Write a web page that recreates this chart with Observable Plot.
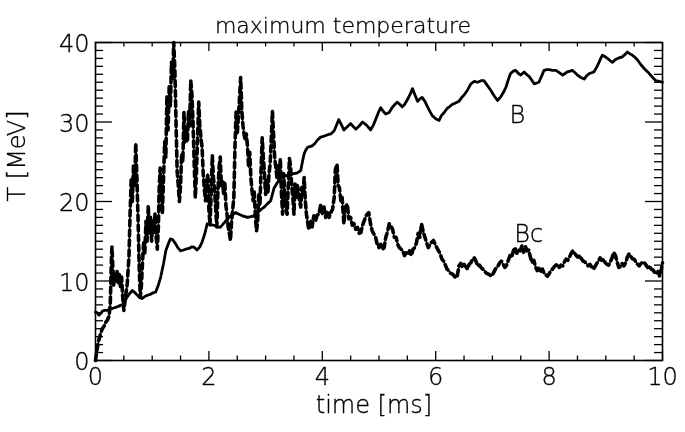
<!DOCTYPE html>
<html>
<head>
<meta charset="utf-8">
<script src="https://cdn.jsdelivr.net/npm/d3@7"></script>
<script src="https://cdn.jsdelivr.net/npm/@observablehq/plot@0.6"></script>
<style>
  html, body { margin: 0; padding: 0; background: #fff; }
  svg { will-change: transform; }
  svg text { font-family: "DejaVu Sans", sans-serif; font-weight: 200; }
</style>
</head>
<body>
<div id="chart"></div>
<script>
// ---- data ----
const bTime = [0.00,0.03,0.06,0.09,0.12,0.15,0.20,0.26,0.32,0.38,0.43,0.47,0.51,0.56,0.60,0.65,0.70,0.74,0.78,0.82,0.86,0.91,0.96,1.01,1.06,1.10,1.15,1.20,1.24,1.28,1.32,1.36,1.41,1.45,1.50,1.55,1.59,1.65,1.70,1.74,1.79,1.84,1.88,1.93,1.97,2.03,2.09,2.15,2.20,2.28,2.35,2.41,2.47,2.53,2.59,2.64,2.68,2.74,2.79,2.86,2.92,2.97,3.03,3.09,3.15,3.20,3.26,3.32,3.38,3.44,3.50,3.56,3.62,3.65,3.68,3.71,3.74,3.78,3.82,3.87,3.91,3.97,4.02,4.06,4.10,4.15,4.21,4.25,4.29,4.34,4.38,4.44,4.50,4.55,4.59,4.65,4.71,4.78,4.85,4.90,4.94,4.99,5.03,5.08,5.12,5.18,5.23,5.28,5.32,5.37,5.41,5.45,5.50,5.55,5.59,5.64,5.68,5.72,5.76,5.81,5.85,5.90,5.94,6.00,6.06,6.10,6.15,6.20,6.24,6.29,6.35,6.41,6.46,6.50,6.56,6.62,6.68,6.74,6.80,6.85,6.91,6.97,7.03,7.09,7.15,7.20,7.24,7.28,7.32,7.37,7.41,7.46,7.50,7.56,7.60,7.65,7.70,7.74,7.78,7.82,7.87,7.91,7.96,8.00,8.06,8.12,8.18,8.24,8.28,8.32,8.37,8.41,8.46,8.50,8.56,8.62,8.66,8.71,8.75,8.79,8.84,8.88,8.91,8.94,8.99,9.03,9.08,9.12,9.16,9.21,9.25,9.29,9.34,9.38,9.42,9.47,9.52,9.56,9.62,9.68,9.74,9.79,9.84,9.88,9.94,10.0];
const bTemp = [6.1,6.0,5.7,5.9,6.2,6.3,6.3,6.5,6.6,6.75,6.9,7.0,7.4,8.0,8.4,8.8,8.5,8.2,7.9,7.8,8.0,8.2,8.3,8.5,8.6,9.3,10.5,12.2,13.8,14.6,15.3,15.2,14.7,14.2,13.8,13.9,14.0,14.1,14.3,14.25,13.9,14.3,14.9,16.0,17.2,17.1,17.0,16.8,16.75,17.4,18.0,18.3,18.6,18.4,18.2,18.1,18.0,18.1,18.2,18.6,19.0,19.25,19.7,20.1,21.7,22.3,22.9,23.1,23.3,23.4,23.5,23.6,23.9,25.0,26.0,26.5,26.8,26.9,27.0,27.3,27.7,28.1,28.2,28.3,28.4,28.5,28.9,29.6,30.3,29.6,29.0,29.4,29.8,29.4,29.1,29.5,30.0,29.6,29.0,29.6,30.3,31.2,31.8,31.3,31.0,31.2,31.8,32.2,32.5,32.2,31.9,32.2,32.8,33.5,34.2,33.3,32.6,32.9,33.1,32.6,32.0,31.3,30.8,30.4,30.2,30.8,31.2,31.7,31.9,32.2,32.4,32.6,33.1,33.4,34.0,34.8,35.1,35.0,35.2,35.2,34.6,34.0,33.3,32.7,33.2,33.8,34.4,35.3,36.1,36.4,36.5,36.1,35.9,36.3,36.0,35.7,35.2,34.8,34.9,35.0,35.8,36.5,36.6,36.6,36.5,36.5,36.2,35.9,36.1,36.3,36.4,36.5,36.2,35.9,35.6,35.4,35.8,36.1,36.2,36.3,36.9,37.5,38.0,38.4,38.2,38.0,37.7,37.5,37.8,38.0,38.1,38.2,38.5,38.8,38.6,38.4,38.1,37.8,37.2,36.7,36.3,35.9,35.5,35.2,35.1,35.0];

const bcTime = [0.00,0.03,0.06,0.09,0.12,0.15,0.18,0.21,0.24,0.26,0.28,0.29,0.31,0.32,0.34,0.36,0.38,0.40,0.42,0.44,0.46,0.48,0.50,0.53,0.56,0.59,0.61,0.63,0.65,0.67,0.69,0.71,0.73,0.75,0.77,0.79,0.81,0.83,0.85,0.87,0.89,0.91,0.93,0.95,0.97,0.99,1.01,1.03,1.05,1.07,1.09,1.11,1.12,1.14,1.16,1.18,1.20,1.22,1.24,1.26,1.28,1.30,1.32,1.34,1.36,1.38,1.40,1.42,1.44,1.46,1.48,1.50,1.52,1.54,1.56,1.58,1.60,1.62,1.64,1.66,1.68,1.70,1.72,1.74,1.76,1.78,1.80,1.82,1.84,1.86,1.88,1.90,1.92,1.94,1.96,1.98,2.00,2.02,2.04,2.06,2.08,2.10,2.12,2.14,2.16,2.18,2.20,2.22,2.24,2.26,2.28,2.30,2.32,2.34,2.36,2.38,2.40,2.42,2.44,2.46,2.48,2.50,2.52,2.54,2.56,2.58,2.60,2.62,2.64,2.66,2.68,2.70,2.72,2.74,2.76,2.78,2.80,2.82,2.84,2.86,2.88,2.90,2.92,2.94,2.96,2.98,3.00,3.02,3.04,3.06,3.08,3.10,3.12,3.14,3.16,3.18,3.20,3.22,3.24,3.26,3.28,3.30,3.32,3.34,3.36,3.38,3.40,3.42,3.44,3.46,3.48,3.50,3.52,3.54,3.56,3.58,3.60,3.62,3.64,3.66,3.68,3.70,3.72,3.74,3.76,3.78,3.80,3.82,3.85,3.88,3.91,3.94,3.97,4.00,4.03,4.06,4.09,4.12,4.15,4.18,4.21,4.23,4.26,4.28,4.30,4.33,4.35,4.38,4.41,4.44,4.47,4.50,4.53,4.56,4.59,4.62,4.65,4.68,4.71,4.74,4.76,4.79,4.82,4.85,4.88,4.91,4.94,4.97,5.00,5.03,5.06,5.09,5.12,5.15,5.18,5.21,5.24,5.27,5.30,5.33,5.36,5.39,5.42,5.45,5.48,5.51,5.54,5.57,5.60,5.63,5.66,5.69,5.72,5.75,5.78,5.81,5.84,5.87,5.90,5.93,5.96,5.99,6.02,6.05,6.08,6.11,6.14,6.17,6.20,6.23,6.26,6.29,6.32,6.35,6.38,6.41,6.44,6.47,6.50,6.53,6.56,6.59,6.62,6.65,6.68,6.71,6.74,6.77,6.80,6.83,6.86,6.89,6.92,6.95,6.98,7.01,7.04,7.07,7.10,7.13,7.16,7.19,7.22,7.25,7.28,7.31,7.34,7.37,7.40,7.43,7.46,7.49,7.52,7.55,7.58,7.61,7.64,7.67,7.70,7.73,7.76,7.79,7.82,7.85,7.88,7.91,7.94,7.97,8.00,8.03,8.06,8.09,8.12,8.15,8.18,8.21,8.24,8.27,8.30,8.33,8.36,8.39,8.42,8.45,8.48,8.51,8.54,8.57,8.60,8.63,8.66,8.69,8.72,8.75,8.78,8.81,8.84,8.87,8.90,8.93,8.96,8.99,9.02,9.05,9.08,9.11,9.14,9.17,9.20,9.23,9.26,9.29,9.32,9.35,9.38,9.41,9.44,9.47,9.50,9.53,9.56,9.59,9.62,9.65,9.68,9.71,9.74,9.77,9.80,9.83,9.86,9.89,9.92,9.95,9.98,10.0];
const bcTemp = [0,1.5,2.6,3.4,4.0,4.3,4.8,5.1,5.6,7.0,12.5,14.3,11.0,9.5,10.8,10.0,11.2,9.8,10.8,9.3,10.5,8.0,6.3,8.0,9.7,13.0,18.5,22.9,20.0,24.5,22.0,27.3,23.0,18.0,12.0,8.0,9.5,12.5,15.0,13.5,17.5,15.0,19.5,16.0,18.0,15.0,17.5,16.0,18.5,15.5,14.0,17.0,21.0,24.2,21.5,18.5,23.0,27.5,25.5,33.3,29.0,34.5,32.0,37.5,35.5,40.0,36.5,30.0,23.8,22.0,20.0,22.1,26.0,25.0,31.2,27.5,28.9,27.5,31.4,29.5,35.2,33.5,30.0,25.0,20.5,23.5,28.0,32.5,29.6,28.0,26.8,23.5,21.5,20.1,22.0,23.5,19.0,17.0,21.0,25.8,23.0,21.5,19.0,16.8,21.5,24.3,25.6,22.0,22.5,21.0,22.5,19.5,18.4,16.8,16.0,15.1,17.5,19.0,20.5,27.0,31.3,28.5,30.6,33.0,35.6,31.5,29.6,28.5,27.7,28.5,27.0,24.3,26.2,23.0,21.4,20.1,21.2,18.0,16.3,17.5,20.9,19.5,24.0,28.0,25.5,23.5,20.9,22.6,21.0,23.5,24.7,28.0,31.3,28.5,25.5,24.3,23.0,24.6,22.6,25.4,21.0,18.4,23.5,20.4,19.0,18.4,22.0,25.4,24.5,22.0,20.5,18.4,22.2,20.5,22.0,21.4,20.0,19.3,21.8,21.0,23.0,20.1,18.4,17.5,16.5,16.8,17.5,16.8,18.2,17.5,18.3,18.4,19.5,18.5,19.3,18.0,18.8,18.0,18.6,19.0,20.5,24.0,24.7,22.0,21.8,20.0,20.5,17.2,19.3,19.7,17.8,18.0,17.0,17.2,16.5,16.75,16.0,16.1,17.0,17.6,18.0,18.4,18.6,17.2,16.3,15.9,15.5,14.6,14.2,14.6,14.0,14.2,15.5,16.2,17.2,16.9,16.5,15.5,15.5,14.6,14.2,14.0,13.8,13.2,13.6,13.4,13.8,13.2,14.0,14.2,14.8,16.0,15.5,17.2,16.2,15.5,14.8,14.2,14.6,14.9,15.1,14.6,14.2,13.8,13.4,12.75,12.5,12.0,11.5,11.3,11.0,10.9,10.7,10.4,10.6,11.9,12.2,11.7,12.1,11.8,11.5,12.1,12.3,12.75,12.9,12.5,11.9,12.0,11.7,11.5,11.3,11.0,10.9,10.8,10.6,10.9,11.3,11.7,11.9,12.3,12.5,12.1,11.7,12.0,12.6,13.2,13.0,13.8,14.2,13.5,14.0,13.8,14.4,13.6,14.4,13.8,13.9,13.0,12.3,12.6,11.8,11.3,11.6,11.2,11.5,11.0,10.8,10.6,10.9,11.3,11.5,11.8,12.0,12.1,11.7,12.0,11.9,12.4,12.75,12.6,13.0,13.5,13.8,13.5,13.2,13.0,13.2,12.8,12.5,12.4,12.2,11.9,12.1,11.8,11.5,11.8,12.2,12.5,12.9,12.6,12.75,12.3,12.1,12.0,12.4,12.9,13.6,13.2,12.4,11.7,11.8,12.2,11.9,12.3,13.0,13.4,13.1,12.8,12.75,12.4,12.1,11.9,12.2,12.4,12.3,12.0,11.7,11.9,11.5,11.4,11.1,10.9,11.2,10.6,11.5,12.3];

const xMajor = [0, 2, 4, 6, 8, 10];
const xMinor = [0.5,1,1.5,2.5,3,3.5,4.5,5,5.5,6.5,7,7.5,8.5,9,9.5];
const yMajor = [0, 10, 20, 30, 40];
const yMinor = [1,2,3,4,5,6,7,8,9,11,12,13,14,15,16,17,18,19,21,22,23,24,25,26,27,28,29,31,32,33,34,35,36,37,38,39];
const seriesNames = ["B", "Bc"];
const labelTime = [7.44, 7.64];
const labelTemp = [30.8, 15.9];

const titleText = "maximum temperature";
const xTitle = "time [ms]";
const yTitle = "T [MeV]";

// ---- build tables ----
const B = bTime.map((t, i) => ({t, v: bTemp[i]}));
const Bc = bcTime.map((t, i) => ({t, v: bcTemp[i]}));
const labels = seriesNames.map((name, i) => ({name, t: labelTime[i], v: labelTemp[i]}));

const W = 685, H = 432;
const mL = 95, mR = 23, mT = 42, mB = 72;
const fw = W - mL - mR, fh = H - mT - mB;
const fs = 24;
const txt = {fill: "#000", stroke: "#000", strokeWidth: 0.35};

const chart = Plot.plot({
  width: W, height: H,
  marginLeft: mL, marginRight: mR, marginTop: mT, marginBottom: mB,
  x: {domain: [0, 10], axis: null},
  y: {domain: [0, 40], axis: null},
  style: {color: "#000", overflow: "visible"},
  marks: [
    // ticks (inward, on all four sides)
    Plot.tickX(xMinor, {x: d => d, insetTop: fh - 4.5, strokeWidth: 1.3}),
    Plot.tickX(xMajor, {x: d => d, insetTop: fh - 9, strokeWidth: 1.3}),
    Plot.tickX(xMinor, {x: d => d, insetBottom: fh - 4.5, strokeWidth: 1.3}),
    Plot.tickX(xMajor, {x: d => d, insetBottom: fh - 9, strokeWidth: 1.3}),
    Plot.tickY(yMinor, {y: d => d, insetRight: fw - 8, strokeWidth: 1.3}),
    Plot.tickY(yMajor, {y: d => d, insetRight: fw - 17, strokeWidth: 1.3}),
    Plot.tickY(yMinor, {y: d => d, insetLeft: fw - 8, strokeWidth: 1.3}),
    Plot.tickY(yMajor, {y: d => d, insetLeft: fw - 17, strokeWidth: 1.3}),
    // series
    Plot.line(Bc, {x: "t", y: "v", stroke: "#000", strokeWidth: 1.2}),
    Plot.line(Bc, {x: "t", y: "v", stroke: "#000", strokeWidth: 3.6, strokeDasharray: "6,4"}),
    Plot.line(B, {x: "t", y: "v", stroke: "#000", strokeWidth: 2.8}),
    Plot.frame({stroke: "#000", strokeWidth: 1.6}),
    // series labels
    Plot.text(labels, {x: "t", y: "v", text: "name", fontSize: fs, ...txt}),
    // tick labels
    Plot.text(xMajor, {x: d => d, text: d => String(d), frameAnchor: "bottom", dy: 24, fontSize: fs, ...txt}),
    Plot.text(yMajor, {y: d => d, text: d => String(d), frameAnchor: "left", dx: -6, dy: 2, textAnchor: "end", fontSize: fs, ...txt}),
    // titles
    Plot.text([titleText], {frameAnchor: "top", dx: -36, dy: -25, fontSize: 22, ...txt}),
    Plot.text([xTitle], {frameAnchor: "bottom", dx: -5, dy: 52, fontSize: fs, ...txt}),
    Plot.text([yTitle], {frameAnchor: "left", dx: -78, rotate: -90, fontSize: fs, ...txt})
  ]
});
document.getElementById("chart").appendChild(chart);
</script>
</body>
</html>
